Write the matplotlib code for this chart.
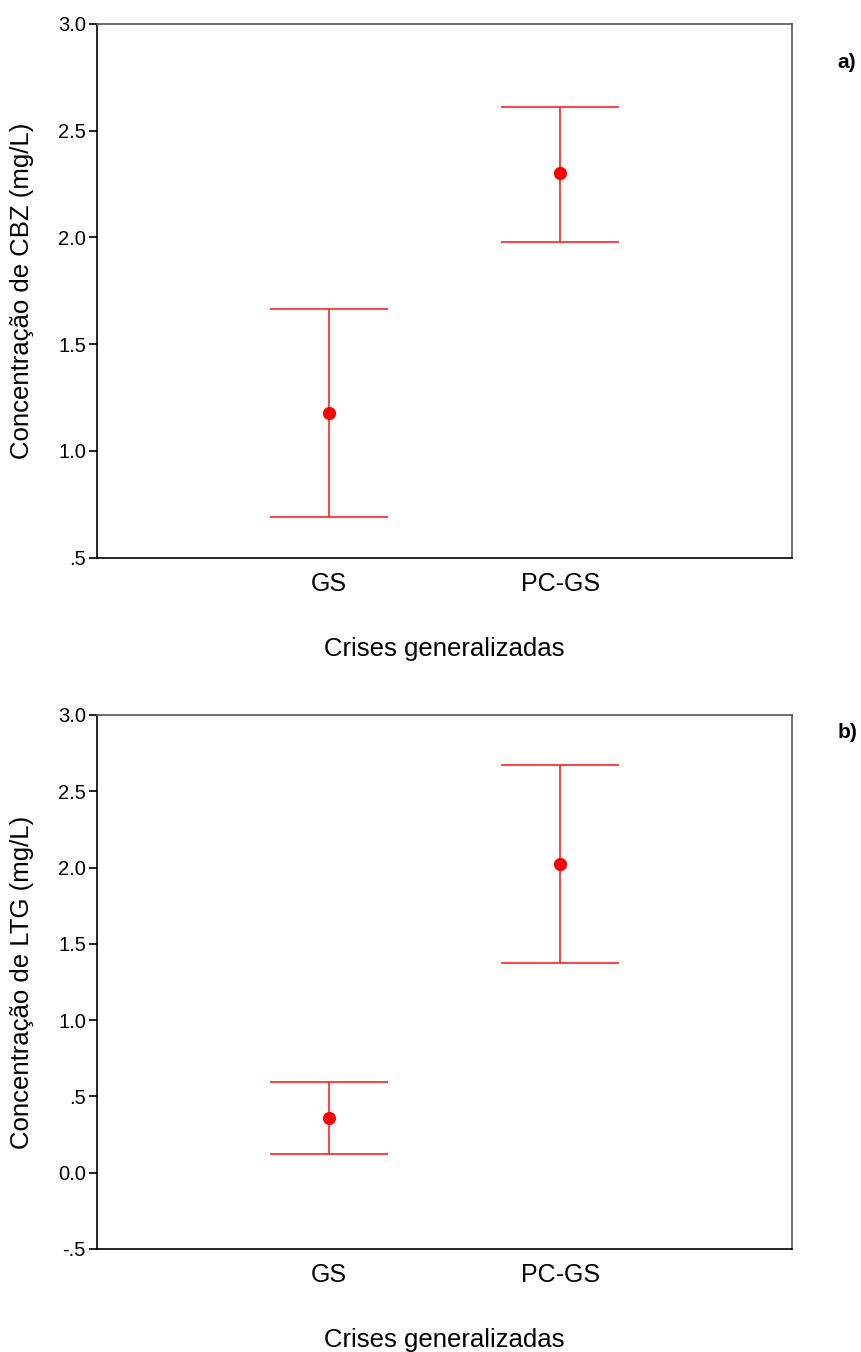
import matplotlib
matplotlib.use('Agg')

import matplotlib.pyplot as plt

plt.rcParams['font.family'] = ['Liberation Sans', 'DejaVu Sans']

groups = ['GS', 'PC-GS']
xlabel = 'Crises generalizadas'

# CBZ (painel a)
cbz_mean = [1.18, 2.30]
cbz_low = [0.69, 1.98]
cbz_high = [1.665, 2.61]

# LTG (painel b)
ltg_mean = [0.36, 2.02]
ltg_low = [0.125, 1.375]
ltg_high = [0.595, 2.67]

panels = [
    ('Concentração de CBZ (mg/L)', cbz_mean, cbz_low, cbz_high,
     [0.5, 3.0], [3.0, 2.5, 2.0, 1.5, 1.0, 0.5], ['3.0', '2.5', '2.0', '1.5', '1.0', '.5'], 'a)'),
    ('Concentração de LTG (mg/L)', ltg_mean, ltg_low, ltg_high,
     [-0.5, 3.0], [3.0, 2.5, 2.0, 1.5, 1.0, 0.5, 0.0, -0.5],
     ['3.0', '2.5', '2.0', '1.5', '1.0', '.5', '0.0', '-.5'], 'b)'),
]

fig = plt.figure(figsize=(8.61, 13.52), dpi=100)
axes_rects = [[0.1127, 0.5875, 0.8072, 0.3948],
              [0.1127, 0.0762, 0.8072, 0.3950]]
tag_y = [0.954, 0.4585]
cap_half = 0.255  # largura das barras horizontais, em unidades do eixo x

for rect, (ylab, mean, low, high, ylim, yt, ytl, tag), ty in zip(axes_rects, panels, tag_y):
    ax = fig.add_axes(rect)
    x = [1, 2]
    ax.vlines(x, low, high, color='#ff2020', lw=1.2)
    ax.hlines(low, [xi - cap_half for xi in x], [xi + cap_half for xi in x], color='#ff2020', lw=1.2)
    ax.hlines(high, [xi - cap_half for xi in x], [xi + cap_half for xi in x], color='#ff2020', lw=1.2)
    ax.plot(x, mean, 'o', color='red', markersize=9.5, markeredgewidth=0, zorder=3)
    ax.set_xlim(0, 3)
    ax.set_ylim(*ylim)
    ax.set_xticks(x)
    ax.set_xticklabels(groups, fontsize=18)
    ax.set_yticks(yt)
    ax.set_yticklabels(ytl, fontsize=14.5)
    ax.tick_params(axis='x', length=0, pad=10)
    ax.tick_params(axis='y', length=6, width=1.2, pad=2)
    for side in ['left', 'bottom']:
        ax.spines[side].set_color('black')
        ax.spines[side].set_linewidth(1.2)
    for side in ['top', 'right']:
        ax.spines[side].set_color('#555555')
        ax.spines[side].set_linewidth(1.2)
    ax.set_ylabel(ylab, fontsize=18.5)
    ax.set_xlabel(xlabel, fontsize=18.5)
    ax.yaxis.set_label_coords(-0.09, 0.5)
    ax.xaxis.set_label_coords(0.5, -0.148)
    fig.text(0.973, ty, tag, fontsize=15, fontweight='bold', ha='left', va='center')

plt.savefig('out.png', dpi=100)
plt.close()
